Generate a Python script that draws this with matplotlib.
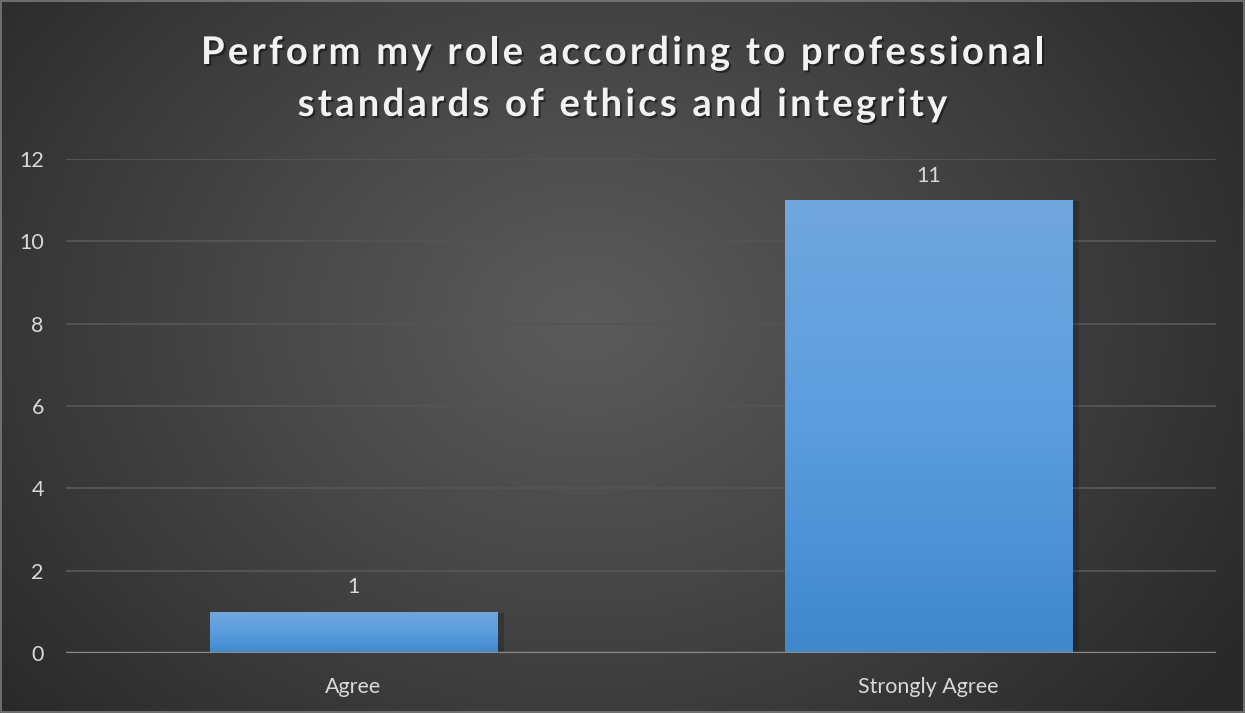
import numpy as np
import matplotlib
matplotlib.use("Agg")
import matplotlib.pyplot as plt
import matplotlib.patheffects as pe
from matplotlib.colors import LinearSegmentedColormap
from matplotlib.font_manager import FontProperties, findfont, get_font

# Survey responses
categories = ["Agree", "Strongly Agree"]
counts = [1, 11]
yticks = [0, 2, 4, 6, 8, 10, 12]
title_lines = ["Perform my role according to professional",
               "standards of ethics and integrity"]

W, H, DPI = 1245, 713, 100
fig = plt.figure(figsize=(W / DPI, H / DPI), dpi=DPI)
plt.rcParams["font.family"] = ["Lato", "DejaVu Sans"]

# Radial dark background
bg = fig.add_axes([0, 0, 1, 1], zorder=-10)
yy, xx = np.mgrid[0:H, 0:W]
r = np.sqrt(((xx - W * 0.47) / (W * 0.62)) ** 2 + ((yy - H * 0.45) / (H * 0.85)) ** 2)
r = np.clip(r, 0, 1)
lum = 0.355 - (0.355 - 0.16) * r ** 1.1
bg.imshow(np.dstack([lum, lum, lum]), extent=[0, 1, 0, 1], aspect="auto", origin="upper")
bg.set_xlim(0, 1)
bg.set_ylim(0, 1)
bg.axis("off")
bg.add_patch(plt.Rectangle((0.001, 0.001), 0.998, 0.998, fill=False,
                           edgecolor="#7a7a7a", lw=1.2, transform=bg.transAxes))

# Plot area
left, right = 66 / W, 1216 / W
bottom, top = 1 - 653 / H, 1 - 159 / H
ax = fig.add_axes([left, bottom, right - left, top - bottom])
ax.patch.set_alpha(0)

for s in ax.spines.values():
    s.set_visible(False)
for t in yticks[1:]:
    ax.axhline(t, color="#545454", lw=1.4, zorder=1)
ax.axhline(0, color="#8c8c8c", lw=2.4, zorder=4)

x = np.arange(len(categories))
bars = ax.bar(x, counts, width=0.5, color="none", zorder=3)

cmap = LinearSegmentedColormap.from_list("barblue", ["#3f88ca", "#5b9ddf", "#71a7dd"])
grad = np.linspace(0, 1, 256).reshape(-1, 1)
for b, v in zip(bars, counts):
    x0, w = b.get_x(), b.get_width()
    # soft shadow on the right
    ax.add_patch(plt.Rectangle((x0 + 0.006, 0), w + 0.006, v - 0.03,
                               facecolor="black", alpha=0.18, lw=0, zorder=2))
    im = ax.imshow(grad, extent=[x0, x0 + w, 0, v], origin="lower", cmap=cmap,
                   aspect="auto", zorder=3)
    im.set_clip_path(b)
    ax.text(x0 + w / 2, v + 0.35, str(v), ha="center", va="bottom",
            color="#d9d9d9", fontsize=15.5)

ax.set_aspect("auto")
ax.set_xlim(-0.5, len(categories) - 0.5)
ax.set_ylim(0, 12)
ax.set_yticks(yticks)
ax.set_yticklabels([str(t) for t in yticks])
ax.set_xticks(x)
ax.set_xticklabels(categories)
ax.tick_params(axis="both", length=0, colors="#d9d9d9", labelsize=15.5)
ax.tick_params(axis="y", pad=16)
ax.tick_params(axis="x", pad=17)

# Letter-spaced title, drawn glyph by glyph
tsize = 27.5
tprop = FontProperties(family="Lato", weight="bold", size=tsize)
font = get_font(findfont(tprop))
font.set_size(tsize, DPI)
tracking = 3.2  # extra pixels between glyphs
shadow = [pe.withSimplePatchShadow(offset=(1.5, -1.5), shadow_rgbFace="black", alpha=0.45)]


def advance(c):
    return font.load_char(ord(c)).linearHoriAdvance / 65536.0


for line, yc in zip(title_lines, [50, 102]):
    adv = [advance(c) + tracking for c in line]
    total = sum(adv) - tracking
    xp = W / 2 - total / 2
    for c, a in zip(line, adv):
        if c != " ":
            fig.text(xp / W, 1 - yc / H, c, ha="left", va="center_baseline",
                     fontproperties=tprop, color="#f2f2f2", path_effects=shadow)
        xp += a

fig.savefig("out.png", dpi=DPI)
